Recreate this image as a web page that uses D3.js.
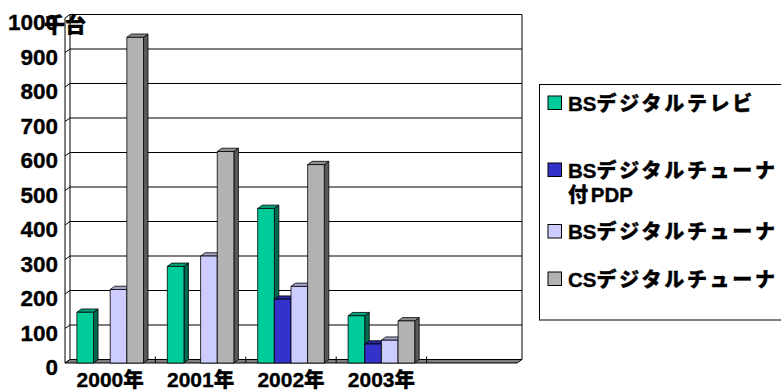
<!DOCTYPE html>
<html>
<head>
<meta charset="utf-8">
<script src="https://cdn.jsdelivr.net/npm/d3@7/dist/d3.min.js"></script>
<style>
  html, body { margin: 0; padding: 0; background: #fff; }
  svg { display: block; }
  text { font-family: "Liberation Sans", Arial, "Noto Sans CJK JP", sans-serif; font-weight: bold; fill: #000; stroke: #000; stroke-width: 0.35px; }
  .cjk { font-family: "Noto Sans CJK JP", sans-serif; font-weight: 900; }
</style>
</head>
<body>
<svg id="chart" width="781" height="392"></svg>
<script>
// Shipments of digital broadcast receivers (thousand units)
const categories = ["2000年", "2001年", "2002年", "2003年", ""];
const seriesNames = ["BSデジタルテレビ", "BSデジタルチューナ付PDP", "BSデジタルチューナ", "CSデジタルチューナ"];
const bsTv      = [147, 280, 448, 137, null];
const bsPdp     = [0,   0,   185, 55,  null];
const bsTuner   = [213, 310, 222, 66,  null];
const csTuner   = [944, 613, 575, 122, null];
const yTicks    = [0, 100, 200, 300, 400, 500, 600, 700, 800, 900, 1000];
const unitLabel = "千台";

const seriesValues = [bsTv, bsPdp, bsTuner, csTuner];
const palette = [
  { front: "#00CC99", top: "#00A37A", side: "#006B50" },
  { front: "#3333CC", top: "#28289F", side: "#1A1A66" },
  { front: "#CCCCFF", top: "#A3A3CC", side: "#666680" },
  { front: "#B2B2B2", top: "#8E8E8E", side: "#595959" }
];

const svg = d3.select("#chart");

// Latin runs and Japanese runs are set in different faces
function mixedText(sel, str, latinSize, cjkSize, cjkSpacing) {
  str.split(/([A-Za-z0-9]+)/).filter(s => s.length).forEach(part => {
    const latin = /^[A-Za-z0-9]+$/.test(part);
    const ts = sel.append("tspan")
      .attr("class", latin ? null : "cjk")
      .attr("font-size", latin ? latinSize : cjkSize)
      .text(part);
    if (!latin && cjkSpacing) ts.attr("letter-spacing", cjkSpacing);
  });
}

// 3-D frame: back wall and a shallow floor
const depth = { dx: 5, dy: -3.5 };
const x0 = d3.scaleBand().domain(d3.range(categories.length)).range([65, 517]).padding(0);
const x1 = d3.scaleBand().domain(d3.range(seriesNames.length))
  .range([11.9, x0.bandwidth() - 11.9]).padding(0);
const yBack = d3.scaleLinear().domain([0, 1000]).range([359.5, 14.5]);
const yFront = v => yBack(v) - depth.dy;

const wallL = x0.range()[0] + depth.dx, wallR = x0.range()[1] + depth.dx;

const grid = svg.append("g");
// gridlines on the back wall, with their short run across the left wall
yTicks.forEach(t => {
  grid.append("line").attr("x1", wallL).attr("x2", wallR)
    .attr("y1", yBack(t)).attr("y2", yBack(t))
    .attr("stroke", "#000").attr("stroke-width", 1);
  grid.append("line").attr("x1", wallL - depth.dx).attr("x2", wallL)
    .attr("y1", yFront(t)).attr("y2", yBack(t))
    .attr("stroke", "#000").attr("stroke-width", 1);
});
// wall edges
grid.append("line").attr("x1", wallL).attr("x2", wallL)
  .attr("y1", yBack(1000)).attr("y2", yBack(0)).attr("stroke", "#000");
grid.append("line").attr("x1", wallL - depth.dx).attr("x2", wallL - depth.dx)
  .attr("y1", yFront(1000)).attr("y2", yFront(0)).attr("stroke", "#000");
grid.append("line").attr("x1", wallR).attr("x2", wallR)
  .attr("y1", yBack(1000)).attr("y2", yBack(0)).attr("stroke", "#000");

// floor
const fx0 = x0.range()[0], fx1 = x0.range()[1];
svg.append("path")
  .attr("d", `M${fx0},${yFront(0)} L${fx1},${yFront(0)} L${fx1 + depth.dx},${yBack(0)} L${fx0 + depth.dx},${yBack(0)} Z`)
  .attr("fill", "#808080").attr("stroke", "#000").attr("stroke-width", 1);
// category tick marks on the floor
d3.range(1, categories.length).forEach(i => {
  const tx = x0(i);
  svg.append("line").attr("x1", tx).attr("x2", tx)
    .attr("y1", yBack(0) - 3).attr("y2", yFront(0))
    .attr("stroke", "#000").attr("stroke-width", 1);
});

// bars, drawn left to right so each front face covers its neighbour's side
const bd = { dx: 4.5, dy: -3.3 };
const bars = svg.append("g");
categories.forEach((c, ci) => {
  seriesValues.forEach((vals, si) => {
    const v = vals[ci];
    if (v == null || v <= 0) return;
    const bx = x0(ci) + x1(si), w = x1.bandwidth();
    const yt = yFront(v), yb = yFront(0);
    const col = palette[si];
    const g = bars.append("g").attr("stroke", "#000").attr("stroke-width", 0.8).attr("stroke-linejoin", "round");
    g.append("path")
      .attr("d", `M${bx + w},${yt} L${bx + w + bd.dx},${yt + bd.dy} L${bx + w + bd.dx},${yb + bd.dy} L${bx + w},${yb} Z`)
      .attr("fill", col.side);
    g.append("path")
      .attr("d", `M${bx},${yt} L${bx + bd.dx},${yt + bd.dy} L${bx + w + bd.dx},${yt + bd.dy} L${bx + w},${yt} Z`)
      .attr("fill", col.top);
    g.append("rect").attr("x", bx).attr("y", yt).attr("width", w).attr("height", yb - yt)
      .attr("fill", col.front);
  });
});

// value axis labels
svg.append("g").selectAll("text").data(yTicks).join("text")
  .attr("x", 58).attr("y", d => yBack(d) + 15.6)
  .attr("text-anchor", "end").attr("font-size", 22.5)
  .text(d => d);

// unit label
svg.append("text").attr("class", "cjk").attr("x", 44).attr("y", 32).attr("font-size", 21)
  .text(unitLabel);

// category labels
svg.append("g").selectAll("text").data(categories).join("text")
  .attr("x", (d, i) => x0(i) + x0.bandwidth() / 2)
  .attr("y", 387).attr("text-anchor", "middle")
  .each(function (d) { mixedText(d3.select(this), d, 21, 20.5); });

// legend
const legend = svg.append("g");
legend.append("rect").attr("x", 539.5).attr("y", 84.5).attr("width", 260).attr("height", 235.5)
  .attr("fill", "#fff").attr("stroke", "#000").attr("stroke-width", 1);
const legendTops = [96, 163, 224.5, 272];
seriesNames.forEach((name, i) => {
  const top = legendTops[i];
  legend.append("rect").attr("x", 548).attr("y", top).attr("width", 13.5).attr("height", 13.5)
    .attr("fill", palette[i].front).attr("stroke", "#000").attr("stroke-width", 1);
  const lines = name.split(/(?<=チューナ)(?=付)/);
  lines.forEach((ln, li) => {
    const t = legend.append("text").attr("x", 568).attr("y", top + 14.5 + li * 24);
    mixedText(t, ln, 20.5, 20, 2.7);
  });
});
</script>
</body>
</html>
